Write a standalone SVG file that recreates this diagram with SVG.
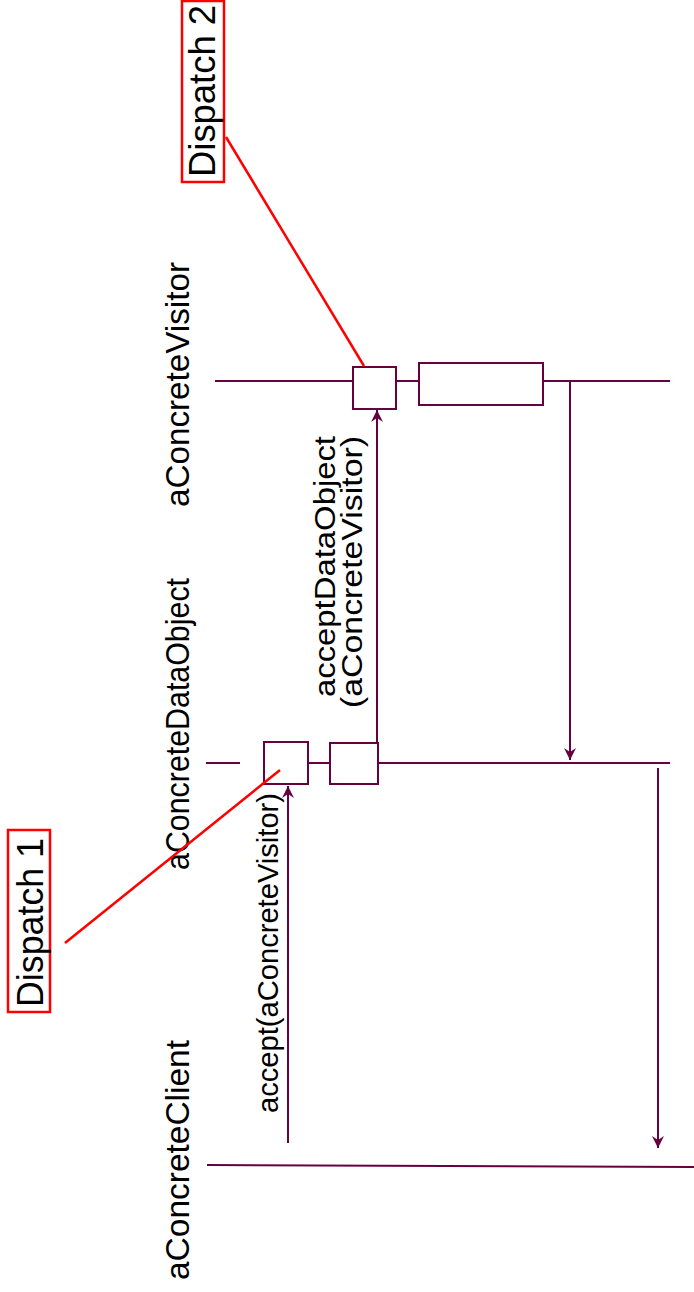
<svg xmlns="http://www.w3.org/2000/svg" width="694" height="1292" viewBox="0 0 694 1292">
<style>
.ln{stroke:#66003f;stroke-width:2;fill:none}
.bx{stroke:#66003f;stroke-width:2;fill:#fff}
.red{stroke:#ff0000;stroke-width:2.5;fill:none}
.redbox{stroke:#ff0000;stroke-width:2.5;fill:#fff}
text{font-family:"Liberation Sans",Arial,sans-serif;fill:#000}
.lbl{font-size:34px}
.msg{font-size:30px}
.dsp{font-size:36px}
</style>
<defs>
<marker id="ah" viewBox="0 0 12 12" refX="12" refY="6" markerWidth="12" markerHeight="12" markerUnits="userSpaceOnUse" orient="auto">
<path d="M0,0 L12,6 L0,12 L4,6 z" fill="#66003f"/>
</marker>
</defs>
<rect width="694" height="1292" fill="#fff"/>
<g id="lifeline-visitor">
<line class="ln" x1="215" y1="381" x2="670" y2="381"/>
<text class="lbl" transform="translate(189,507) rotate(-90)" textLength="245" lengthAdjust="spacingAndGlyphs">aConcreteVisitor</text>
</g>
<g id="lifeline-dataobject">
<line class="ln" x1="206" y1="763" x2="240" y2="763"/>
<line class="ln" x1="308" y1="763" x2="330" y2="763"/>
<line class="ln" x1="378" y1="763" x2="670" y2="763"/>
<text class="lbl" transform="translate(189,870) rotate(-90)" textLength="292" lengthAdjust="spacingAndGlyphs">aConcreteDataObject</text>
</g>
<g id="lifeline-client">
<line class="ln" x1="207" y1="1165" x2="694" y2="1167"/>
<text class="lbl" transform="translate(189,1280) rotate(-90)" textLength="240" lengthAdjust="spacingAndGlyphs">aConcreteClient</text>
</g>
<g id="act-do-1"><rect class="bx" x="264" y="742" width="44" height="42"/></g>
<g id="act-do-2"><rect class="bx" x="330" y="743" width="48" height="41"/></g>
<g id="act-v-1"><rect class="bx" x="353" y="367" width="43" height="42"/></g>
<g id="act-v-2"><rect class="bx" x="419" y="363" width="124" height="42"/></g>
<g id="connectors">
<line class="ln" x1="288" y1="1143" x2="288" y2="786" marker-end="url(#ah)"/>
<line class="ln" x1="377" y1="743" x2="377" y2="410" marker-end="url(#ah)"/>
<line class="ln" x1="570" y1="381" x2="570" y2="760" marker-end="url(#ah)"/>
<line class="ln" x1="658" y1="768" x2="658" y2="1148" marker-end="url(#ah)"/>
<line class="red" x1="65" y1="943" x2="280" y2="770"/>
<line class="red" x1="226" y1="137" x2="364" y2="366"/>
</g>
<g id="msg-accept">
<text class="msg" transform="translate(278,1113) rotate(-90)" textLength="320" lengthAdjust="spacingAndGlyphs">accept(aConcreteVisitor)</text>
</g>
<g id="msg-acceptDataObject">
<text class="msg" transform="translate(335,697) rotate(-90)" textLength="261" lengthAdjust="spacingAndGlyphs">acceptDataObject</text>
<text class="msg" transform="translate(362,708) rotate(-90)" textLength="272" lengthAdjust="spacingAndGlyphs">(aConcreteVisitor)</text>
</g>
<g id="dispatch-2">
<rect class="redbox" x="182" y="1" width="42" height="181"/>
<text class="dsp" transform="translate(215,177) rotate(-90)" textLength="172" lengthAdjust="spacingAndGlyphs">Dispatch 2</text>
</g>
<g id="dispatch-1">
<rect class="redbox" x="8" y="830" width="42" height="182"/>
<text class="dsp" transform="translate(43,1007) rotate(-90)" textLength="169" lengthAdjust="spacingAndGlyphs">Dispatch 1</text>
</g>
</svg>
